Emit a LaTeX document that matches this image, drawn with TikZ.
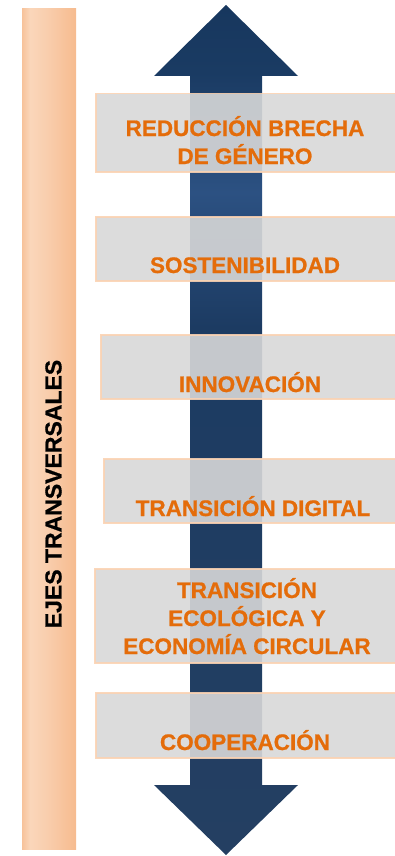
\documentclass[tikz,border=0pt]{standalone}
\usepackage{fontspec}
\setmainfont{Liberation Sans}
\newfontfamily\gruesa{Liberation Sans Bold}[FakeBold=0.8]

\definecolor{naranja}{HTML}{E46C0A}
\definecolor{melocoton}{HTML}{FBD3B3}
\definecolor{grisclaro}{HTML}{D8D8D8}
\definecolor{azulT}{HTML}{17375E}
\definecolor{azulA}{HTML}{1A3B63}
\definecolor{azulL}{HTML}{2C5182}
\definecolor{azulB}{HTML}{1C3B62}
\definecolor{azulC}{HTML}{243F62}
\definecolor{durA}{HTML}{F7C29A}
\definecolor{claro}{HTML}{FAD6BA}
\definecolor{medio}{HTML}{F9CFAF}
\definecolor{durB}{HTML}{F6BB8F}

\pgfdeclareverticalshading{flechaazul}{100bp}{color(0bp)=(azulC); color(25bp)=(azulC); color(56bp)=(azulB); color(64bp)=(azulL); color(71bp)=(azulA); color(75bp)=(azulT); color(100bp)=(azulT)}
\pgfdeclarehorizontalshading{barrapeach}{100bp}{color(0bp)=(durA); color(25bp)=(durA); color(32.4bp)=(claro); color(46.3bp)=(medio); color(75bp)=(durB); color(100bp)=(durB)}

\begin{document}
\begin{tikzpicture}[x=1pt, y=-1pt,
  caja/.style={draw=melocoton, line width=1.5pt, fill=grisclaro, opacity=0.9,
    anchor=north west, minimum width=310pt, inner sep=0pt},
  lema/.style={text=naranja, font=\fontsize{22.5}{28}\selectfont\gruesa,
    align=center, inner sep=0pt, anchor=base}]
 \useasboundingbox (0,0) rectangle (395,856);
 \clip (0,0) rectangle (395,856);
 % barra lateral
 \shade[shading=barrapeach] (22,9) rectangle (76,849);
 \node[rotate=90, font=\fontsize{23}{28}\selectfont\gruesa, inner sep=0pt] (ejes) at (53.5,494) {EJES TRANSVERSALES};
 % flecha doble
 \shade[shading=flechaazul] (226,5) -- (298,76) -- (262,76) -- (262,785) -- (298,785)
   -- (226,855) -- (154,785) -- (190,785) -- (190,76) -- (154,76) -- cycle;
 % cajas
 \node[caja, minimum height=78pt] (b1) at (95,93) {};
 \node[caja, minimum height=64pt] (b2) at (95,216) {};
 \node[caja, minimum height=64pt] (b3) at (100,334) {};
 \node[caja, minimum height=64pt] (b4) at (103,458) {};
 \node[caja, minimum height=94pt] (b5) at (94,568) {};
 \node[caja, minimum height=65pt] (b6) at (95,692) {};
 % textos (base = ultima linea)
 \node[lema] (t1) at (245,164) {REDUCCIÓN BRECHA\\DE GÉNERO};
 \node[lema] (t2) at (245,273) {SOSTENIBILIDAD};
 \node[lema] (t3) at (250,392) {INNOVACIÓN};
 \node[lema] (t4) at (253,516) {TRANSICIÓN DIGITAL};
 \node[lema] (t5) at (247,654) {TRANSICIÓN\\ECOLÓGICA Y\\ECONOMÍA CIRCULAR};
 \node[lema] (t6) at (245,750) {COOPERACIÓN};
\end{tikzpicture}
\end{document}
